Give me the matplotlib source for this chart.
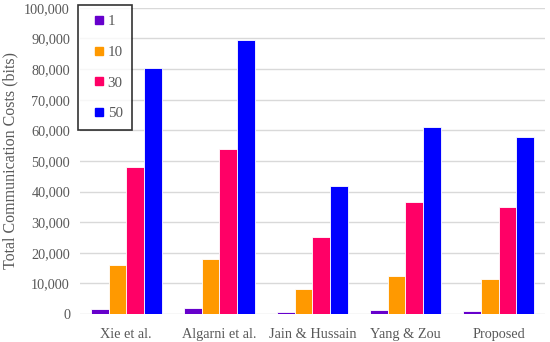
import numpy as np
import matplotlib.pyplot as plt
from matplotlib.lines import Line2D

methods = ['Xie et al.', 'Algarni et al.', 'Jain & Hussain', 'Yang & Zou', 'Proposed']
series_labels = ['1', '10', '30', '50']
cost_1 = [1500, 1800, 700, 1200, 1100]
cost_10 = [16000, 18000, 8200, 12300, 11500]
cost_30 = [48000, 53800, 25000, 36500, 34800]
cost_50 = [80200, 89500, 41800, 61000, 57800]
colors = ['#6600CC', '#FF9900', '#FF0066', '#0000FF']

plt.rcParams['font.family'] = ['Liberation Serif', 'DejaVu Serif']

fig = plt.figure(figsize=(5.5, 3.42), dpi=100)
ax = fig.add_axes([0.145, 0.082, 0.846, 0.895])

x = np.arange(len(methods))
width = 0.19
all_series = [cost_1, cost_10, cost_30, cost_50]
for i, vals in enumerate(all_series):
    ax.bar(x + (i - 1.5) * width, vals, width, color=colors[i],
           edgecolor='white', linewidth=0.6, zorder=3, label=series_labels[i])

ax.set_xlim(-0.5, len(methods) - 0.5)
ax.set_ylim(0, 100000)
ax.set_yticks(np.arange(0, 100001, 10000))
ax.set_yticklabels([f'{v:,}' for v in range(0, 100001, 10000)])
ax.set_xticks(x)
ax.set_xticklabels(methods)
ax.grid(axis='y', color='#D9D9D9', linewidth=1.0, zorder=0)
for s in ax.spines.values():
    s.set_visible(False)
ax.tick_params(axis='y', length=0, labelsize=10.3, colors='#595959', pad=7)
ax.tick_params(axis='x', length=0, labelsize=10.3, colors='#595959', pad=10)
ax.set_ylabel('Total Communication Costs (bits)', fontsize=11.5, color='#595959', labelpad=4)

handles = [Line2D([], [], linestyle='none', marker='s', markersize=5.5,
                  markerfacecolor=c, markeredgecolor=c) for c in colors]
leg = ax.legend(handles, series_labels, loc='upper left', bbox_to_anchor=(-0.003, 1.01),
                fontsize=10.8, frameon=True, fancybox=False, edgecolor='black',
                handlelength=1.4, handletextpad=-0.1,
                labelspacing=1.15, borderpad=0.65, borderaxespad=0)
leg.get_frame().set_linewidth(1.2)
for t in leg.get_texts():
    t.set_color('#595959')

fig.savefig('out.png', dpi=100)
